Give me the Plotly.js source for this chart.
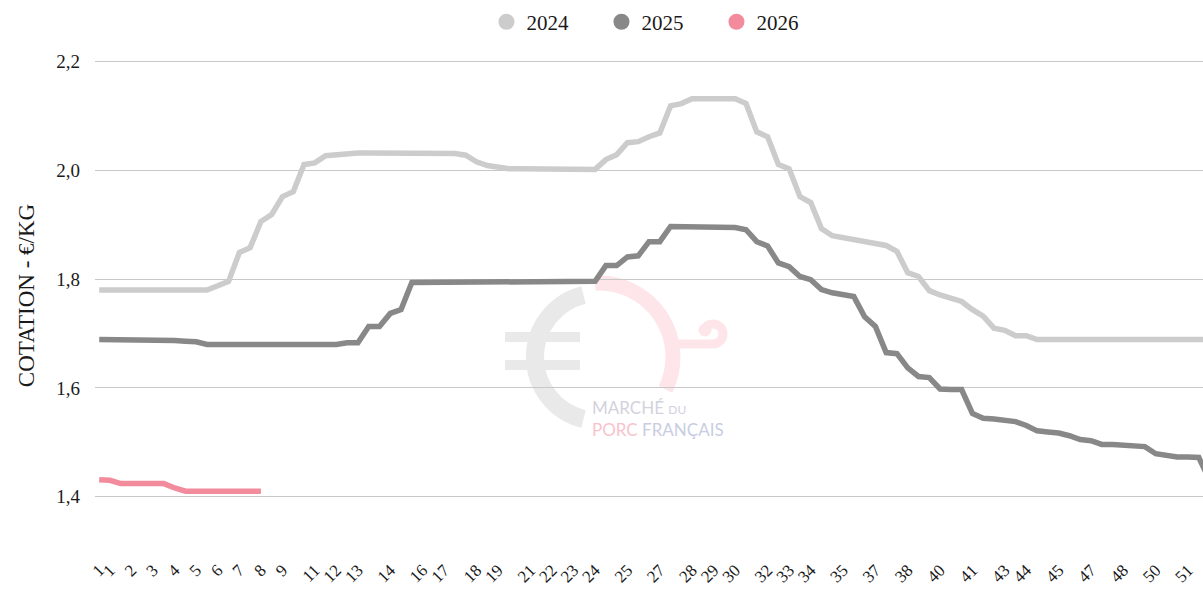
<!DOCTYPE html>
<html>
<head>
<meta charset="utf-8">
<script src="https://cdn.plot.ly/plotly-3.0.1.min.js"></script>
<style>
html,body{margin:0;padding:0;background:#fff;}
#chart{width:1203px;height:589px;}
</style>
</head>
<body>
<div id="chart"></div>
<script>
// ---- data ----
// two quotation sessions per week: weeks 1..52, 104 points
var weeks = [];
for (var w = 1; w <= 52; w++) { weeks.push(w); weeks.push(w); }

var series2024 = [
  1.78,1.78,1.78,1.78,1.78,1.78,1.78,1.78,1.78,1.78,1.78,
  1.788,1.796,1.849,1.858,1.906,1.919,1.952,1.961,2.011,2.014,2.027,2.029,2.031,
  2.032,2.032,2.032,2.032,2.032,2.032,2.032,2.032,2.032,2.031,
  2.028,2.016,2.009,2.005,
  2.003,2.003,2.003,2.003,2.003,2.003,2.003,2.003,2.002,
  2.02,2.029,2.051,2.053,2.062,2.069,2.119,2.123,2.132,
  2.132,2.132,2.132,2.132,
  2.123,2.071,2.062,2.011,2.003,1.952,1.941,1.893,1.88,1.876,1.872,1.869,1.864,1.862,
  1.851,1.812,1.805,1.779,1.771,1.764,1.759,1.744,1.732,1.71,1.706,1.696,1.696,
  1.689,1.689,1.689,1.689,1.689,1.689,1.689,1.689,1.689,1.689,1.689,1.689,1.689,1.689,1.689,1.689,1.689
];

var series2025 = [
  1.689,1.689,1.689,1.689,
  1.688,1.688,1.687,1.687,1.686,1.685,
  1.68,1.68,1.68,1.68,1.68,1.68,1.68,1.68,1.68,1.68,1.68,1.68,1.68,
  1.683,1.683,1.713,1.713,1.737,1.744,
  1.794,1.794,1.794,1.794,1.794,1.794,1.794,1.794,1.794,1.794,1.794,1.794,1.794,1.794,1.794,1.794,1.794,
  1.796,1.825,1.825,1.841,1.843,1.869,1.869,
  1.897,1.897,1.897,1.897,1.897,1.897,1.895,1.891,
  1.869,1.861,1.83,1.823,1.805,1.799,1.781,1.775,1.772,1.768,
  1.731,1.713,1.665,1.663,1.637,1.621,1.619,1.598,1.597,1.597,
  1.553,1.544,1.543,1.541,1.538,1.531,1.521,1.519,1.517,1.512,
  1.505,1.503,1.496,1.496,1.495,1.494,1.492,1.479,1.475,1.473,1.473,1.472,1.43
];

var series2026 = [
  1.431,1.43,1.424,1.424,1.424,1.424,1.424,1.416,
  1.41,1.41,1.41,1.41,1.41,1.41,1.41,1.41
];

// indices of the sessions whose week number is shown on the axis
var shownTickIndex = [0,1,3,5,7,9,11,13,15,17,20,22,24,27,30,32,35,37,40,42,44,46,49,52,55,57,59,62,64,66,69,72,75,78,81,84,86,89,92,95,98,101];
var shownTickText = shownTickIndex.map(function(i){ return String(weeks[i]); });

var yTicks = [1.4, 1.6, 1.8, 2.0, 2.2];

var seriesNames = ['2024', '2025', '2026'];
var seriesColors = ['#cccccc', '#888888', '#f28c9d'];
var seriesData = [series2024, series2025, series2026];

function idx(arr){ return arr.map(function(_, i){ return i; }); }

var traces = [];
seriesData.forEach(function(s, k){
  traces.push({
    x: idx(s), y: s, type: 'scatter', mode: 'lines',
    name: seriesNames[k], legendgroup: seriesNames[k], showlegend: false,
    line: {color: seriesColors[k], width: 5.5, shape: 'linear'},
    hoverinfo: 'skip'
  });
});
seriesNames.forEach(function(n, k){
  traces.push({
    x: [null], y: [null], type: 'scatter', mode: 'markers',
    name: n, legendgroup: n, showlegend: true,
    marker: {color: seriesColors[k], size: 16, symbol: 'circle'}
  });
});

// ---- watermark logo (graphic only; text as annotation) ----
var svg = '<svg xmlns="http://www.w3.org/2000/svg" width="1108" height="511" viewBox="0 0 1108 511" preserveAspectRatio="none">' +
  '<path d="M 488.5 254.9 A 64 64 0 0 0 488.5 379.1" fill="none" stroke="#e9e9e9" stroke-width="18"/>' +
  '<rect x="410" y="292" width="75" height="10" fill="#e9e9e9"/>' +
  '<rect x="410" y="320" width="75" height="10" fill="#e9e9e9"/>' +
  '<path d="M 500.1 243.1 A 74 74 0 0 1 570.5 349.4" fill="none" stroke="#fde5e9" stroke-width="15"/>' +
  '<path d="M 578 304 H 618 A 10 10 0 0 0 628 294 A 10 10 0 0 0 618 284 A 10 10 0 0 0 609 290" fill="none" stroke="#fde5e9" stroke-width="9" stroke-linecap="round"/>' +
  '<circle cx="610" cy="290" r="6.5" fill="#fde5e9"/>' +
  '</svg>';
var svgURI = 'data:image/svg+xml;charset=utf-8,' + encodeURIComponent(svg);

var serif = 'Liberation Serif, DejaVu Serif, serif';

var layout = {
  width: 1203, height: 589,
  margin: {l: 95, r: 0, t: 40, b: 38, autoexpand: false},
  paper_bgcolor: '#ffffff',
  plot_bgcolor: 'rgba(0,0,0,0)',
  separators: ', ',
  font: {family: serif, color: '#1a1a1a', size: 17},
  showlegend: true,
  legend: {
    orientation: 'h', x: 0.509, xanchor: 'center', y: 1.035, yanchor: 'middle',
    font: {family: serif, size: 21, color: '#1a1a1a'},
    entrywidth: 70, entrywidthmode: 'pixels', bgcolor: 'rgba(0,0,0,0)'
  },
  xaxis: {
    type: 'linear', range: [-0.39, 102.39],
    tickmode: 'array', tickvals: shownTickIndex, ticktext: shownTickText,
    tickangle: -45, showgrid: false, zeroline: false, showline: false, ticks: '',
    ticklabelstandoff: 5,
    tickfont: {family: serif, size: 17, color: '#1a1a1a'}, fixedrange: true
  },
  yaxis: {
    range: [1.3, 2.24], tickmode: 'array', tickvals: yTicks, tickformat: '.1f',
    showgrid: true, gridcolor: '#c8c8c8', gridwidth: 1, zeroline: false, showline: false, ticks: '',
    ticklabelstandoff: 14,
    tickfont: {family: serif, size: 19, color: '#1a1a1a'},
    title: {text: 'COTATION - €/KG', font: {family: serif, size: 23, color: '#1a1a1a'}, standoff: 15},
    fixedrange: true
  },
  images: [{
    source: svgURI, xref: 'paper', yref: 'paper', x: 0, y: 1, sizex: 1, sizey: 1,
    xanchor: 'left', yanchor: 'top', sizing: 'stretch', layer: 'below'
  }],
  annotations: [
    {xref: 'paper', yref: 'paper', x: 0.4468, y: 0.259, xanchor: 'left', yanchor: 'middle', showarrow: false, align: 'left',
     text: 'MARCHÉ <span style="font-size:12px">DU</span><br><span style="color:#f8c3cc">PORC</span> <span style="color:#c9cde2">FRANÇAIS</span>',
     font: {family: 'Lato, Open Sans, sans-serif', size: 17, color: '#d2d2dc'}}
  ],
  hovermode: false
};

Plotly.newPlot('chart', traces, layout, {displayModeBar: false, staticPlot: true});
</script>
</body>
</html>
